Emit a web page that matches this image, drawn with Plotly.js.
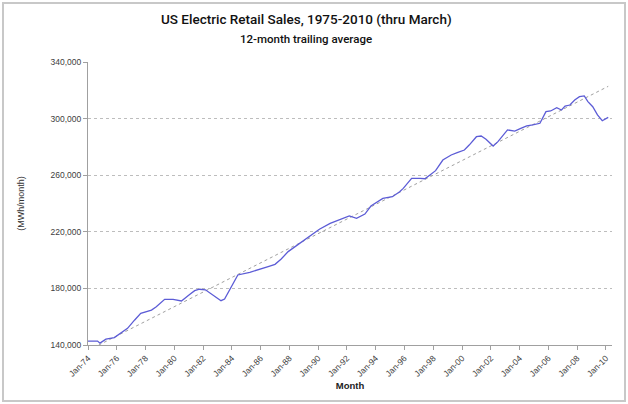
<!DOCTYPE html>
<html>
<head>
<meta charset="utf-8">
<script src="https://cdn.plot.ly/plotly-3.0.1.min.js"></script>
<style>
  html, body { margin: 0; padding: 0; background: #ffffff; }
  #chart { width: 628px; height: 404px; }
  #frame { position: absolute; left: 2px; top: 2px; width: 620px; height: 396px; border: 2px solid #c8c8c8; pointer-events: none; }
</style>
</head>
<body>
<div id="chart"></div>
<div id="frame"></div>
<script>
// Months (x) and 12-month trailing average sales in MWh/month (y)
const months = [
  '1974-01','1974-09','1974-11','1975-04','1975-11','1976-05','1976-10','1977-04','1977-09','1978-06',
  '1978-10','1979-05','1979-12','1980-07','1980-10','1981-02','1981-06','1981-10','1982-03','1982-09',
  '1983-04','1983-07','1983-11','1984-06','1985-04','1986-02','1986-08','1987-01','1987-06','1987-12',
  '1988-05','1988-11','1989-04','1989-09','1990-02','1990-11','1991-07','1992-03','1992-09','1993-04',
  '1993-09','1994-07','1995-03','1995-09','1995-12','1996-07','1997-02','1997-06','1997-10','1998-03',
  '1998-09','1999-04','1999-09','2000-03','2000-07','2001-01','2001-05','2001-09','2002-03','2002-07',
  '2003-03','2003-09','2004-02','2004-07','2004-12','2005-06','2005-11','2006-03','2006-08','2006-12',
  '2007-03','2007-07','2007-11','2008-03','2008-07','2008-10','2009-02','2009-06','2009-10','2010-03'
];
const sales = [
  142800,142800,141300,144100,145200,149000,151800,157700,162400,164700,
  167000,172300,172300,171100,173400,175800,178400,179400,179000,175300,
  171300,172500,178900,189500,191400,193700,195600,197000,200600,206000,
  209000,213000,215800,219000,221800,226000,228800,231200,229500,232500,
  238200,243600,244800,248300,250700,257800,257800,257500,260000,263200,
  270700,274300,275900,277800,281300,287200,287700,285400,280600,283700,
  292000,291200,293100,294800,295500,296700,304900,305400,307700,306100,
  308900,309600,313100,315500,316000,312000,308400,302600,298500,300900
];
// Linear trend line end points
const trendMonths = ['1974-01', '2010-03'];
const trendValues = [136100, 322800];
// Axis ticks
const yTicks = [140000, 180000, 220000, 260000, 300000, 340000];
const yTickText = ['140,000', '180,000', '220,000', '260,000', '300,000', '340,000'];
// Titles
const chartTitle = 'US Electric Retail Sales, 1975-2010 (thru March)';
const chartSubtitle = '12-month trailing average';

const traces = [
  {
    x: trendMonths, y: trendValues, type: 'scatter', mode: 'lines',
    line: { color: '#a0a0a0', width: 1, dash: 'dot' }, hoverinfo: 'skip', showlegend: false
  },
  {
    x: months, y: sales, type: 'scatter', mode: 'lines',
    line: { color: '#5c5cd6', width: 1.3 }, showlegend: false
  }
];

const layout = {
  width: 628, height: 404,
  margin: { l: 88, r: 16, t: 62, b: 59 },
  paper_bgcolor: '#ffffff', plot_bgcolor: '#ffffff',
  font: { family: 'Liberation Sans, Arial, sans-serif', color: '#333333' },
  annotations: [
    {
      text: chartTitle, xref: 'paper', yref: 'paper', x: 0.4166, y: 1.1519,
      xanchor: 'center', yanchor: 'middle', showarrow: false,
      font: { family: 'Roboto, sans-serif', size: 13.5, weight: 500, color: '#111111' }
    },
    {
      text: chartSubtitle, xref: 'paper', yref: 'paper', x: 0.4166, y: 1.0813,
      xanchor: 'center', yanchor: 'middle', showarrow: false,
      font: { family: 'Roboto, sans-serif', size: 11.5, weight: 500, color: '#111111' }
    }
  ],
  xaxis: {
    type: 'date',
    range: ['1974-01-01', '2010-06-05'],
    tick0: '1974-01-01', dtick: 'M24', tickformat: '%b-%y',
    tickangle: -45,
    tickfont: { size: 8.5, color: '#404040' },
    ticks: 'outside', ticklen: 4, tickcolor: '#a0a0a0',
    showline: true, linecolor: '#a0a0a0', linewidth: 1,
    showgrid: false, zeroline: false,
    title: { text: '<b>Month</b>', font: { size: 9.5, color: '#222222' }, standoff: 4 }
  },
  yaxis: {
    range: [140000, 340000],
    tickvals: yTicks, ticktext: yTickText,
    tickfont: { size: 8.5, color: '#404040' },
    ticks: 'outside', ticklen: 4, tickcolor: '#a0a0a0',
    showline: true, linecolor: '#a0a0a0', linewidth: 1,
    showgrid: true, gridcolor: '#bdbdbd', griddash: 'dot', gridwidth: 1,
    zeroline: false,
    title: { text: '(MWh/month)', font: { size: 9, color: '#333333' }, standoff: 24 }
  }
};

Plotly.newPlot('chart', traces, layout, { displayModeBar: false, staticPlot: true });
</script>
</body>
</html>
